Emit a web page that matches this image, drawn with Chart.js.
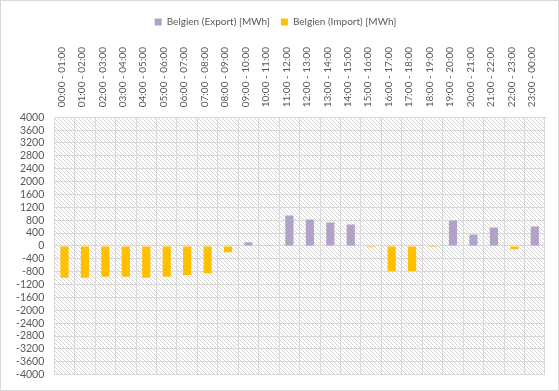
<!DOCTYPE html>
<html>
<head>
<meta charset="utf-8">
<script src="https://cdn.jsdelivr.net/npm/chart.js@4.4.0/dist/chart.umd.min.js"></script>
<style>
  html, body { margin: 0; padding: 0; background: #fff; }
  canvas { display: block; }
</style>
</head>
<body>
<canvas id="chart" width="559" height="391"></canvas>
<script>
// Stunden
var hours = ["00:00 - 01:00", "01:00 - 02:00", "02:00 - 03:00", "03:00 - 04:00",
  "04:00 - 05:00", "05:00 - 06:00", "06:00 - 07:00", "07:00 - 08:00",
  "08:00 - 09:00", "09:00 - 10:00", "10:00 - 11:00", "11:00 - 12:00",
  "12:00 - 13:00", "13:00 - 14:00", "14:00 - 15:00", "15:00 - 16:00",
  "16:00 - 17:00", "17:00 - 18:00", "18:00 - 19:00", "19:00 - 20:00",
  "20:00 - 21:00", "21:00 - 22:00", "22:00 - 23:00", "23:00 - 00:00"];

// Export / Import in MWh
var exportMWh = [0, 0, 0, 0, 0, 0, 0, 0, 0, 115, 20, 945,
  825, 730, 670, 0, 0, 0, 0, 795, 360, 575, 0, 605];
var importMWh = [-990, -990, -960, -960, -990, -960, -905, -845, -195, 0, 0, 0,
  0, 0, 0, -40, -780, -780, -30, 0, 0, 0, -105, 0];

var yMin = -4000, yMax = 4000, yStep = 400;

// schraffierter Hintergrund
var pc = document.createElement("canvas");
pc.width = 4; pc.height = 4;
var pctx = pc.getContext("2d");
pctx.fillStyle = "#ffffff";
pctx.fillRect(0, 0, 4, 4);
pctx.fillStyle = "#d6d6d6";
for (var i = 0; i < 4; i++) pctx.fillRect(i, i, 1, 1);

var hatch = {
  id: "hatch",
  beforeDraw: function(chart) {
    var c = chart.ctx, a = chart.chartArea;
    c.save();
    c.fillStyle = "#ffffff";
    c.fillRect(0, 0, chart.width, chart.height);
    c.strokeStyle = "#d9d9d9";
    c.strokeRect(0.5, 0.5, chart.width - 1, chart.height - 1);
    c.fillStyle = c.createPattern(pc, "repeat");
    c.fillRect(a.left, a.top, a.right - a.left, a.bottom - a.top);
    c.restore();
  }
};

Chart.defaults.font.family = "Lato, 'Open Sans', sans-serif";
Chart.defaults.color = "#595959";

new Chart(document.getElementById("chart"), {
  type: "bar",
  data: {
    labels: hours,
    datasets: [{
      label: "Belgien (Export) [MWh]",
      data: exportMWh,
      backgroundColor: "#b3a2c7"
    }, {
      label: "Belgien (Import) [MWh]",
      data: importMWh,
      backgroundColor: "#ffc000"
    }]
  },
  options: {
    responsive: false,
    animation: false,
    devicePixelRatio: 1,
    layout: { padding: { left: 6, right: 14, top: 6, bottom: 16 } },
    plugins: {
      legend: {
        position: "top",
        labels: { boxWidth: 7, boxHeight: 7, font: { size: 10 }, padding: 11 }
      },
      tooltip: { enabled: false }
    },
    datasets: { bar: { categoryPercentage: 1, barPercentage: 0.4 } },
    scales: {
      x: {
        position: "top",
        stacked: true,
        grid: { color: "#d9d9d9", offset: true, drawTicks: false },
        border: { color: "#d9d9d9" },
        ticks: { minRotation: 90, maxRotation: 90, autoSkip: false, font: { size: 10 }, padding: 10, labelOffset: 9 }
      },
      y: {
        min: yMin, max: yMax,
        grid: { color: "#d9d9d9", drawTicks: false },
        border: { color: "#d9d9d9" },
        ticks: { stepSize: yStep, autoSkip: false, font: { size: 10.5 }, padding: 10, callback: function(v) { return String(v); } }
      }
    }
  },
  plugins: [hatch]
});
</script>
</body>
</html>
